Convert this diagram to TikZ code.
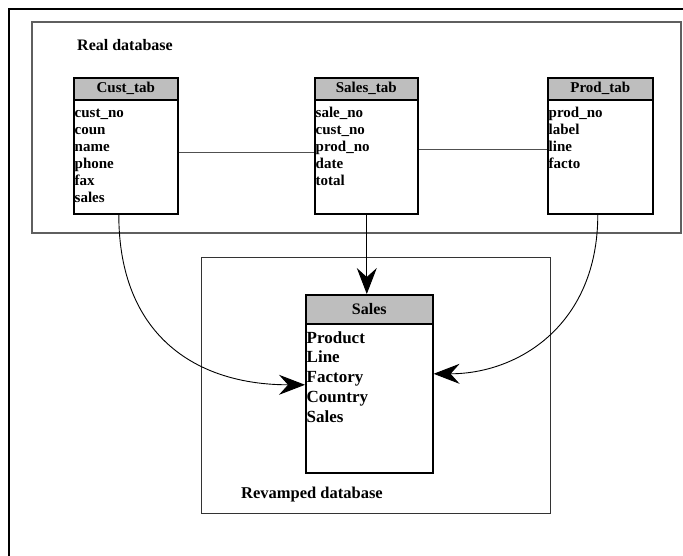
\documentclass[tikz,border=0pt]{standalone}
\usepackage{fontspec}
\setmainfont{Liberation Serif}
\usetikzlibrary{arrows.meta}
\definecolor{hdrgray}{RGB}{190,190,190}
\definecolor{areagray}{RGB}{95,95,95}
\definecolor{linkgray}{RGB}{80,80,80}
\begin{document}
\begin{tikzpicture}[x=1pt,y=-1pt,
  hdr/.style={draw, line width=1.6pt, fill=hdrgray, inner sep=0pt, anchor=north west},
  tbody/.style={draw, line width=1.6pt, fill=white, inner sep=0pt, anchor=north west},
  smallfont/.style={font=\fontsize{15}{15}\selectfont\bfseries},
  bigfont/.style={font=\fontsize{17}{17}\selectfont\bfseries},
  fld/.style={anchor=base west, inner sep=0pt},
  area/.style={draw=areagray, line width=1.2pt},
  arealabel/.style={anchor=base west, inner sep=0pt, font=\fontsize{16.5}{16.5}\selectfont\bfseries},
  link/.style={draw=linkgray, line width=1.1pt},
  feed/.style={draw, line width=0.9pt, -{Stealth[length=26pt, width=20pt, inset=9pt]}}
]
\useasboundingbox (0,0) rectangle (683,555);

% outer frame (runs past the page on the right and bottom)
\draw[line width=2.6pt] (9,570) -- (9,9) -- (700,9);

% the two areas
\draw[area] (32,22) rectangle (681,233);
\draw[draw=black!80, line width=1pt] (201,257) rectangle (550,513);
\node[arealabel, font=\fontsize{16}{16}\selectfont\bfseries] (reallbl) at (77,50) {Real database};
\node[arealabel] (revlbl) at (241,498) {Revamped database};

% Cust_tab
\node[hdr, smallfont, minimum width=104pt, minimum height=22pt] (custhead) at (73,77) {Cust\_tab};
\node[tbody, minimum width=104pt, minimum height=114pt] (custbody) at (73,99) {};
\node[fld, smallfont] (c1) at (74.5,117) {cust\_no};
\node[fld, smallfont] (c2) at (74.5,134) {coun};
\node[fld, smallfont] (c3) at (74.5,151) {name};
\node[fld, smallfont] (c4) at (74.5,168) {phone};
\node[fld, smallfont] (c5) at (74.5,185) {fax};
\node[fld, smallfont] (c6) at (74.5,202) {sales};

% Sales_tab
\node[hdr, smallfont, minimum width=103pt, minimum height=22pt] (salhead) at (314,77) {Sales\_tab};
\node[tbody, minimum width=103pt, minimum height=114pt] (salbody) at (314,99) {};
\node[fld, smallfont] (s1) at (315.5,117) {sale\_no};
\node[fld, smallfont] (s2) at (315.5,134) {cust\_no};
\node[fld, smallfont] (s3) at (315.5,151) {prod\_no};
\node[fld, smallfont] (s4) at (315.5,168) {date};
\node[fld, smallfont] (s5) at (315.5,185) {total};

% Prod_tab
\node[hdr, smallfont, minimum width=105pt, minimum height=22pt] (prodhead) at (547,77) {Prod\_tab};
\node[tbody, minimum width=105pt, minimum height=114pt] (prodbody) at (547,99) {};
\node[fld, smallfont] (p1) at (548.5,117) {prod\_no};
\node[fld, smallfont] (p2) at (548.5,134) {label};
\node[fld, smallfont] (p3) at (548.5,151) {line};
\node[fld, smallfont] (p4) at (548.5,168) {facto};

% Sales (revamped)
\node[hdr, minimum width=127pt, minimum height=29pt, font=\fontsize{16}{16}\selectfont\bfseries] (revhead) at (305,294) {Sales};
\node[tbody, minimum width=127pt, minimum height=149pt] (revbody) at (305,323) {};
\node[fld, bigfont] (r1) at (306.5,343) {Product};
\node[fld, bigfont] (r2) at (306.5,362.8) {Line};
\node[fld, bigfont] (r3) at (306.5,382.6) {Factory};
\node[fld, bigfont] (r4) at (306.5,402.4) {Country};
\node[fld, bigfont] (r5) at (306.5,422.2) {Sales};

% joins between the source tables
\draw[link] ([yshift=4pt]custbody.east) -- ([yshift=4pt]salbody.west);
\draw[link] ([yshift=7pt]salbody.east) -- ([yshift=7pt]prodbody.west);

% feeds into the revamped table
\draw[feed] ([xshift=0.5pt]salbody.south) -- ([xshift=0.5pt]salbody.south |- revhead.north);
\draw[feed] ([xshift=-7pt]custbody.south) .. controls +(0,120) and +(-110,0) .. ([yshift=13.5pt]revbody.west);
\draw[feed] ([xshift=-2.5pt]prodbody.south) .. controls +(0,110) and +(85,0) .. ([yshift=24.5pt]revbody.east);
\end{tikzpicture}
\end{document}
